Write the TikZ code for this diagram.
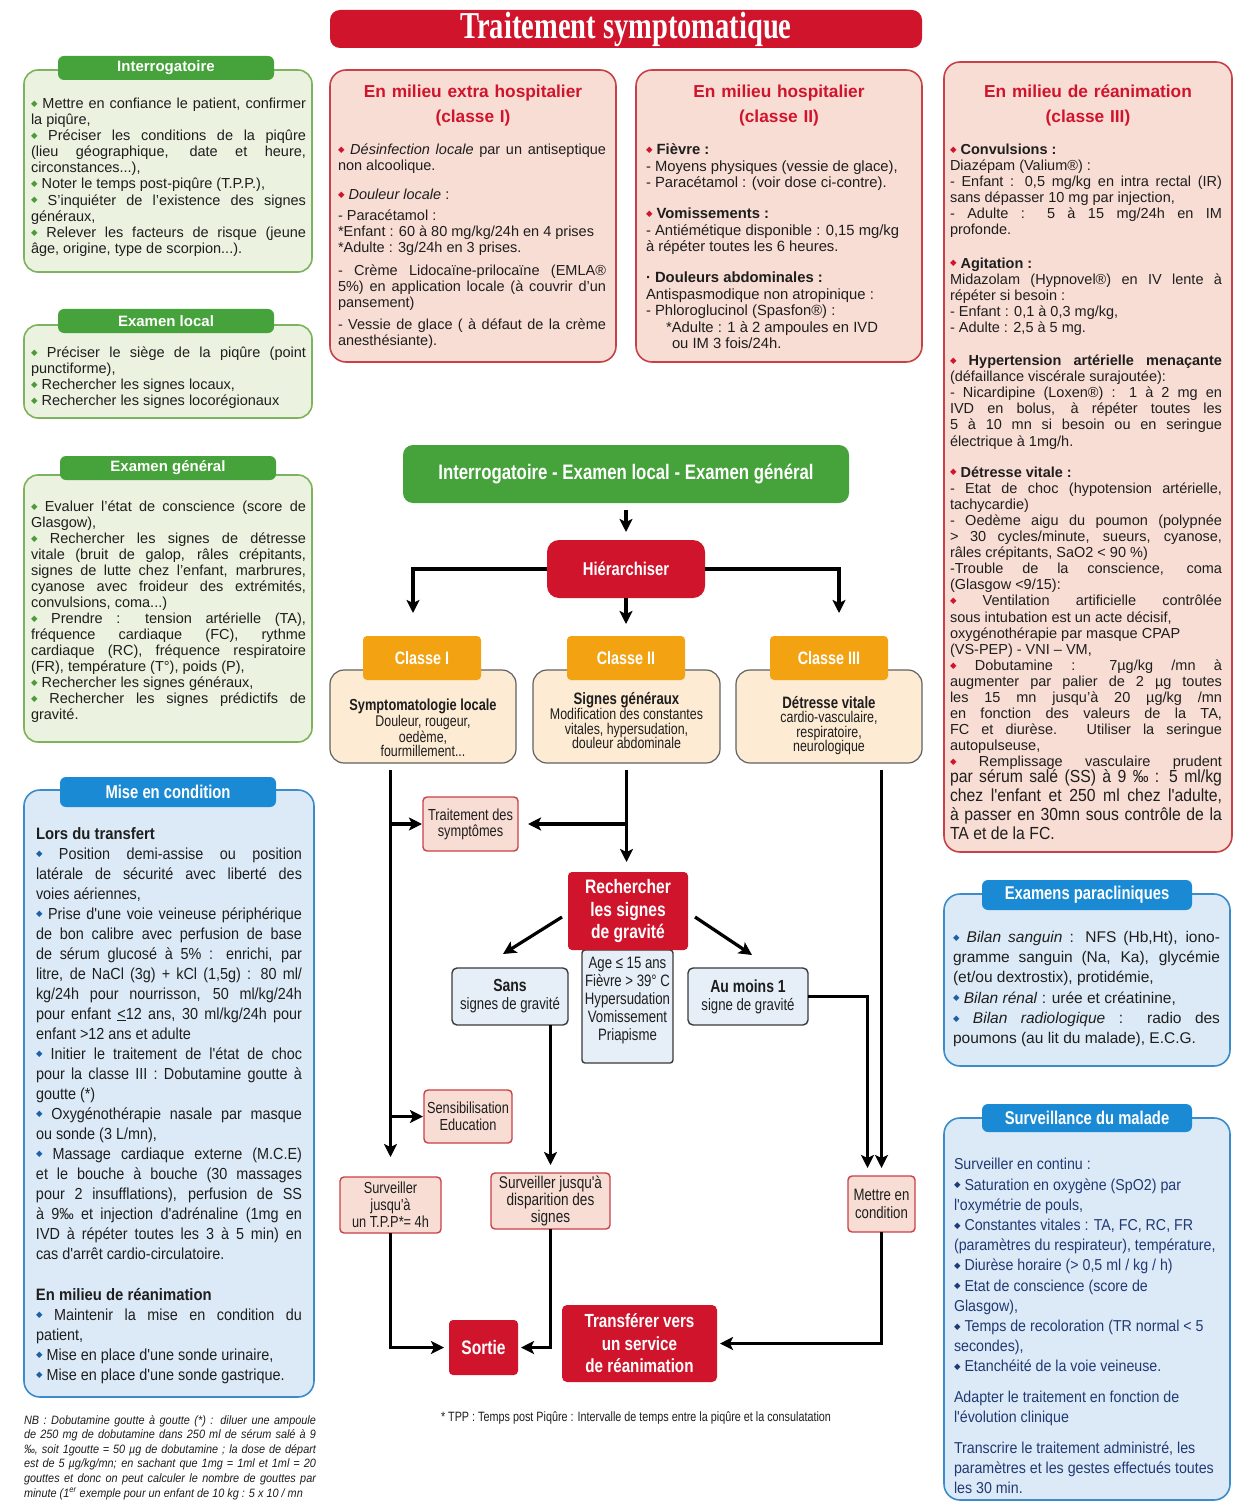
\documentclass[tikz,border=0pt]{standalone}
\usepackage{fontspec}
\setmainfont{Liberation Sans}
\newfontfamily\nfont[FakeStretch=0.8]{Liberation Sans}
\newfontfamily\mcfont[FakeStretch=0.9]{Liberation Sans}
\newfontfamily\ttlfont[FakeStretch=0.75]{Liberation Serif}
\newfontfamily\dvfont{DejaVu Sans}
\usetikzlibrary{arrows.meta,calc}
\definecolor{tred}{HTML}{D0142C}
\definecolor{gtab}{HTML}{46A23A}
\definecolor{gfill}{HTML}{EBF2DF}
\definecolor{gborder}{HTML}{7DB35C}
\definecolor{gbul}{HTML}{4E9A3A}
\definecolor{btab}{HTML}{1A8AD4}
\definecolor{bfill}{HTML}{DCEAF7}
\definecolor{bborder}{HTML}{3A8CCB}
\definecolor{bbul}{HTML}{1F5FA8}
\definecolor{navy}{HTML}{213A73}
\definecolor{pfill}{HTML}{F8DDD4}
\definecolor{pborder}{HTML}{C94148}
\definecolor{otab}{HTML}{F3A312}
\definecolor{peach}{HTML}{FDEBD4}
\definecolor{lblue}{HTML}{E6EFF8}
\definecolor{boxline}{HTML}{3A3A3A}
\definecolor{txt}{HTML}{1E1E1E}
\newcommand\bul[1]{\raisebox{2.2pt}{\textcolor{#1}{\dvfont\fontsize{8.5}{8.5}\selectfont ◆}}\ }
\newcommand\fl{\rule{0pt}{1em}}
\newcommand\fsz[2]{\fontsize{#1}{#2}\selectfont}
\tolerance=9999 \hbadness=10000 \hyphenpenalty=10000 \exhyphenpenalty=10000
\begin{document}
\begin{tikzpicture}[x=1pt,y=-1pt,
  every node/.style={inner sep=0pt, outer sep=0pt},
  titlebox/.style={fill=tred, rounded corners=10pt, text=white, minimum width=592pt, minimum height=38pt, font=\ttlfont\bfseries\fsz{38}{38}},
  gpanel/.style={draw=gborder, fill=gfill, line width=1.6pt, rounded corners=14pt, anchor=north west},
  gtabs/.style={fill=gtab, rounded corners=6pt, text=white, font=\bfseries\fsz{15}{15}, minimum width=216pt, minimum height=24pt},
  ppanel/.style={draw=pborder, fill=pfill, line width=1.6pt, rounded corners=16pt, anchor=north west},
  bpanel/.style={draw=bborder, fill=bfill, line width=1.6pt, rounded corners=16pt, anchor=north west},
  btabs/.style={fill=btab, rounded corners=6pt, text=white, font=\nfont\bfseries\fsz{18.5}{18.5}, minimum width=210pt, minimum height=28pt},
  ptxt/.style={anchor=north west, align=justify, text=txt},
  phead/.style={anchor=north, align=center, text=tred, font=\bfseries\fsz{17.3}{25}, text width=280pt},
  redbox/.style={fill=tred, rounded corners=8pt, text=white, align=center},
  pbox/.style={draw=pborder, fill=pfill, line width=1.4pt, rounded corners=4pt, align=center, text=txt},
  lbbox/.style={draw=boxline, fill=lblue, line width=1.4pt, rounded corners=5pt, align=center, text=txt},
  pchbox/.style={draw=boxline!80, fill=peach, line width=1.2pt, rounded corners=14pt},
  otabs/.style={fill=otab, rounded corners=4pt, text=white, font=\nfont\bfseries\fsz{18}{18}, minimum width=118pt, minimum height=44pt},
  arr/.style={line width=3.2pt, -{Stealth[length=13pt,width=13pt,inset=3pt]}, line join=miter}
]
\useasboundingbox (0,0) rectangle (1236,1503);
\fill[white] (0,0) rectangle (1236,1503);

% ---------- title ----------
\node[titlebox] (title) at (626,29) {Traitement symptomatique};

% ---------- left column ----------
\node[gpanel, minimum width=288pt, minimum height=202pt] (p-interro) at (24,70) {};
\node[gtabs] (tab-interro) at (166,68) {Interrogatoire};
\node[ptxt, text width=275pt, font=\fsz{14.5}{16.1}] (t-interro) at (31,94) {\fl\bul{gbul}Mettre en confiance le patient, confirmer\linebreak la piqûre,\par
\bul{gbul}Préciser les conditions de la piqûre\linebreak (lieu géographique, date et heure,\linebreak circonstances...),\par
\bul{gbul}Noter le temps post-piqûre (T.P.P.),\par
\bul{gbul}S'inquiéter de l'existence des signes\linebreak généraux,\par
\bul{gbul}Relever les facteurs de risque (jeune\linebreak âge, origine, type de scorpion...).};

\node[gpanel, minimum width=288pt, minimum height=93pt] (p-local) at (24,325) {};
\node[gtabs] (tab-local) at (166,321) {Examen local};
\node[ptxt, text width=275pt, font=\fsz{14.5}{16.1}] (t-local) at (31,343) {\fl\bul{gbul}Préciser le siège de la piqûre (point\linebreak punctiforme),\par
\bul{gbul}Rechercher les signes locaux,\par
\bul{gbul}Rechercher les signes locorégionaux};

\node[gpanel, minimum width=288pt, minimum height=267pt] (p-gen) at (24,475) {};
\node[gtabs] (tab-gen) at (168,468) {Examen général};
\node[ptxt, text width=275pt, font=\fsz{14.5}{16}] (t-gen) at (31,497) {\fl\bul{gbul}Evaluer l'état de conscience (score de\linebreak Glasgow),\par
\bul{gbul}Rechercher les signes de détresse\linebreak vitale (bruit de galop, râles crépitants,\linebreak signes de lutte chez l'enfant, marbrures,\linebreak cyanose avec froideur des extrémités,\linebreak convulsions, coma...)\par
\bul{gbul}Prendre : tension artérielle (TA),\linebreak fréquence cardiaque (FC), rythme\linebreak cardiaque (RC), fréquence respiratoire\linebreak (FR), température (T°), poids (P),\par
\bul{gbul}Rechercher les signes généraux,\par
\bul{gbul}Rechercher les signes prédictifs de\linebreak gravité.};

\node[bpanel, minimum width=290pt, minimum height=607pt] (p-mise) at (24,790) {};
\node[btabs, minimum width=216pt, minimum height=30pt] (tab-mise) at (168,792) {Mise en condition};
\node[ptxt, text width=266pt, font=\mcfont\fsz{16}{20}] (t-mise) at (36,823) {\fl{\bfseries\fsz{16.5}{20}Lors du transfert}\par
\bul{bbul}Position demi-assise ou position\linebreak latérale de sécurité avec liberté des\linebreak voies aériennes,\par
\bul{bbul}Prise d'une voie veineuse périphérique\linebreak de bon calibre avec perfusion de base\linebreak de sérum glucosé à 5\% : enrichi, par\linebreak litre, de NaCl (3g) + kCl (1,5g) : 80 ml/\linebreak kg/24h pour nourrisson, 50 ml/kg/24h\linebreak pour enfant \underline{<}12 ans, 30 ml/kg/24h pour\linebreak enfant >12 ans et adulte\par
\bul{bbul}Initier le traitement de l'état de choc\linebreak pour la classe III : Dobutamine goutte à\linebreak goutte (*)\par
\bul{bbul}Oxygénothérapie nasale par masque\linebreak ou sonde (3 L/mn),\par
\bul{bbul}Massage cardiaque externe (M.C.E)\linebreak et le bouche à bouche (30 massages\linebreak pour 2 insufflations), perfusion de SS\linebreak à 9‰ et injection d'adrénaline (1mg en\linebreak IVD à répéter toutes les 3 à 5 min) en\linebreak cas d'arrêt cardio-circulatoire.\par\vspace{21pt}
{\bfseries\fsz{16.5}{20}En milieu de réanimation}\par
\bul{bbul}Maintenir la mise en condition du\linebreak patient,\par
\bul{bbul}Mise en place d'une sonde urinaire,\par
\bul{bbul}Mise en place d'une sonde gastrique.};

\node[ptxt, text width=292pt, font=\mcfont\itshape\fsz{12.1}{14.6}] (t-nb) at (24,1412) {\fl NB : Dobutamine goutte à goutte (*) : diluer une ampoule\linebreak de 250 mg de dobutamine dans 250 ml de sérum salé à 9\linebreak ‰, soit 1goutte = 50 µg de dobutamine ; la dose de départ\linebreak est de 5 µg/kg/mn; en sachant que 1mg = 1ml et 1ml = 20\linebreak gouttes et donc on peut calculer le nombre de gouttes par\linebreak minute (1\textsuperscript{er} exemple pour un enfant de 10 kg : 5 x 10 / mn};

% ---------- top treatment panels ----------
\node[ppanel, minimum width=286pt, minimum height=292pt] (p-c1) at (330,70) {};
\node[phead] (h-c1) at (473,80) {\fl En milieu extra hospitalier\\(classe I)};
\node[ptxt, text width=268pt, font=\fsz{14.5}{16}] (t-c1) at (338,140) {\fl\bul{tred}\textit{Désinfection locale} par un antiseptique\linebreak non alcoolique.\par\vspace{13pt}
\bul{tred}\textit{Douleur locale} :\par\vspace{5pt}
- Paracétamol :\par
*Enfant : 60 à 80 mg/kg/24h en 4 prises\par
*Adulte : 3g/24h en 3 prises.\par\vspace{7pt}
- Crème Lidocaïne-prilocaïne (EMLA®\linebreak 5\%) en application locale (à couvrir d'un\linebreak pansement)\par\vspace{6pt}
- Vessie de glace ( à défaut de la crème\linebreak anesthésiante).};

\node[ppanel, minimum width=286pt, minimum height=292pt] (p-c2) at (636,70) {};
\node[phead] (h-c2) at (779,80) {\fl En milieu hospitalier\\(classe II)};
\node[anchor=north west, align=left, text=txt, font=\fsz{14.8}{16.5}] (t-c2) at (646,140) {\fl\bul{tred}\textbf{Fièvre :}\\
- Moyens physiques (vessie de glace),\\
- Paracétamol : (voir dose ci-contre).\\[14.5pt]
\bul{tred}\textbf{Vomissements :}\\
- Antiémétique disponible : 0,15 mg/kg\\
à répéter toutes les 6 heures.\\[14.5pt]
\textbf{· Douleurs abdominales :}\\
Antispasmodique non atropinique :\\
- Phloroglucinol (Spasfon®) :\\
\hspace*{20pt}*Adulte : 1 à 2 ampoules en IVD\\
\hspace*{26pt}ou IM 3 fois/24h.};

\node[ppanel, minimum width=288pt, minimum height=790pt] (p-c3) at (944,62) {};
\node[phead] (h-c3) at (1088,80) {\fl En milieu de réanimation\\(classe III)};
\node[ptxt, text width=272pt, font=\fsz{14.5}{16.1}] (t-c3) at (950,140) {\fl\bul{tred}\textbf{Convulsions :}\par
Diazépam (Valium®) :\par
- Enfant : 0,5 mg/kg en intra rectal (IR)\linebreak sans dépasser 10 mg par injection,\par
- Adulte : 5 à 15 mg/24h en IM\linebreak profonde.\par\vspace{17pt}
\bul{tred}\textbf{Agitation :}\par
Midazolam (Hypnovel®) en IV lente à\linebreak répéter si besoin :\par
- Enfant : 0,1 à 0,3 mg/kg,\par
- Adulte : 2,5 à 5 mg.\par\vspace{17pt}
\bul{tred}\textbf{Hypertension artérielle menaçante}\linebreak (défaillance viscérale surajoutée):\par
- Nicardipine (Loxen®) : 1 à 2 mg en\linebreak IVD en bolus, à répéter toutes les\linebreak 5 à 10 mn si besoin ou en seringue\linebreak électrique à 1mg/h.\par\vspace{15pt}
\bul{tred}\textbf{Détresse vitale :}\par
- Etat de choc (hypotension artérielle,\linebreak tachycardie)\par
- Oedème aigu du poumon (polypnée\linebreak > 30 cycles/minute, sueurs, cyanose,\linebreak râles crépitants, SaO2 < 90 \%)\par
-Trouble de la conscience, coma\linebreak (Glasgow <9/15):\par
\bul{tred}Ventilation artificielle contrôlée\linebreak sous intubation est un acte décisif,\newline oxygénothérapie par masque CPAP\newline (VS-PEP) - VNI – VM,\par
\bul{tred}Dobutamine : 7µg/kg /mn à\linebreak augmenter par palier de 2 µg toutes\linebreak les 15 mn jusqu'à 20 µg/kg /mn\linebreak en fonction des valeurs de la TA,\linebreak FC et diurèse. Utiliser la seringue\linebreak autopulseuse,\par
{\parfillskip=0pt \bul{tred}Remplissage vasculaire prudent\par}
\vspace{-3pt}{\mcfont\fsz{17.5}{19}par sérum salé (SS) à 9 ‰ : 5 ml/kg\linebreak chez l'enfant et 250 ml chez l'adulte,\linebreak à passer en 30mn sous contrôle de la\linebreak TA et de la FC.\par}};

% ---------- right lower panels ----------
\node[bpanel, minimum width=286pt, minimum height=172pt] (p-exam) at (944,894) {};
\node[btabs, minimum height=30pt] (tab-exam) at (1087,895) {Examens paracliniques};
\node[ptxt, text width=267pt, font=\fsz{15.5}{20.2}] (t-exam) at (953,927) {\fl\bul{bbul}\textit{Bilan sanguin} : NFS (Hb,Ht), iono-\linebreak gramme sanguin (Na, Ka), glycémie\linebreak (et/ou dextrostix), protidémie,\par
\bul{bbul}\textit{Bilan rénal} : urée et créatinine,\par
\bul{bbul}\textit{Bilan radiologique} : radio des\linebreak poumons (au lit du malade), E.C.G.};

\node[bpanel, minimum width=286pt, minimum height=382pt] (p-surv) at (944,1118) {};
\node[btabs] (tab-surv) at (1087,1118) {Surveillance du malade};
\node[anchor=north west, align=left, text=navy, font=\mcfont\fsz{15.8}{20.2}] (t-surv) at (954,1154) {\fl Surveiller en continu :\\
\bul{navy}Saturation en oxygène (SpO2) par\\
l'oxymétrie de pouls,\\
\bul{navy}Constantes vitales : TA, FC, RC, FR\\
(paramètres du respirateur), température,\\
\bul{navy}Diurèse horaire (> 0,5 ml / kg / h)\\
\bul{navy}Etat de conscience (score de\\
Glasgow),\\
\bul{navy}Temps de recoloration (TR normal < 5\\
secondes),\\
\bul{navy}Etanchéité de la voie veineuse.\\[10pt]
Adapter le traitement en fonction de\\
l'évolution clinique\\[11pt]
Transcrire le traitement administré, les\\
paramètres et les gestes effectués toutes\\
les 30 min.};

% ---------- flowchart ----------
\node[fill=gtab, rounded corners=10pt, minimum width=446pt, minimum height=58pt, text=white, font=\nfont\bfseries\fsz{21}{21}] (green) at (626,474) {Interrogatoire - Examen local - Examen général};
\node[redbox, minimum width=158pt, minimum height=58pt, rounded corners=12pt, font=\nfont\bfseries\fsz{18.5}{18.5}] (hier) at (626,569) {Hiérarchiser};

\node[pchbox, minimum width=186pt, minimum height=93pt] (c1box) at (423,716.5) {};
\node[pchbox, minimum width=187pt, minimum height=93pt] (c2box) at (626.5,716.5) {};
\node[pchbox, minimum width=186pt, minimum height=93pt] (c3box) at (829,716.5) {};
\node[otabs] (c1tab) at (422,658) {Classe I};
\node[otabs] (c2tab) at (626,658) {Classe II};
\node[otabs] (c3tab) at (829,658) {Classe III};
\node[align=center, text=txt, font=\nfont\fsz{15.5}{14.5}] (c1txt) at (423,728) {{\bfseries\fsz{16}{14.5}Symptomatologie locale}\\Douleur, rougeur,\\oedème,\\fourmillement...};
\node[align=center, text=txt, font=\nfont\fsz{15.5}{14.5}] (c2txt) at (626.5,720.5) {{\bfseries\fsz{16.5}{14.5}Signes généraux}\\Modification des constantes\\vitales, hypersudation,\\douleur abdominale};
\node[align=center, text=txt, font=\nfont\fsz{15.5}{14.5}] (c3txt) at (829,725.5) {{\bfseries\fsz{16.5}{14.5}Détresse vitale}\\cardio-vasculaire,\\respiratoire,\\neurologique};

\node[pbox, minimum width=95pt, minimum height=54pt, font=\nfont\fsz{16}{16}] (trt) at (470.5,824) {Traitement des\\symptômes};
\node[lbbox, minimum width=91pt, minimum height=113pt, rounded corners=3pt] (age) at (627.5,1006.5) {};
\node[align=center, text=txt, font=\nfont\fsz{16.5}{18}] (agetxt) at (627.5,1001) {Age ≤ 15 ans\\Fièvre > 39° C\\Hypersudation\\Vomissement\\Priapisme};
\node[redbox, minimum width=120pt, minimum height=78pt, rounded corners=4pt, font=\nfont\bfseries\fsz{19.5}{22.5}] (rech) at (628,911) {Rechercher\\les signes\\de gravité};
\node[lbbox, minimum width=116pt, minimum height=57pt, font=\nfont\fsz{16.5}{18}] (sans) at (510,996.5) {{\bfseries\fsz{17.5}{18}Sans}\\signes de gravité};
\node[lbbox, minimum width=120pt, minimum height=57pt, font=\nfont\fsz{16.5}{18}] (aum) at (748,996.5) {{\bfseries\fsz{17.5}{18}Au moins 1}\\signe de gravité};
\node[pbox, minimum width=88pt, minimum height=53pt, font=\nfont\fsz{16}{17}] (sens) at (468,1116.5) {Sensibilisation\\Education};
\node[pbox, minimum width=101pt, minimum height=56pt, font=\nfont\fsz{16}{17}] (tpp) at (390.5,1205) {Surveiller\\jusqu'à\\un T.P.P*= 4h};
\node[pbox, minimum width=119pt, minimum height=56pt, font=\nfont\fsz{17}{17}] (sd) at (550.5,1201) {Surveiller jusqu'à\\disparition des\\signes};
\node[pbox, minimum width=67pt, minimum height=56pt, font=\nfont\fsz{16.5}{18}] (met) at (881.5,1204) {Mettre en\\condition};
\node[redbox, minimum width=69pt, minimum height=55pt, rounded corners=4pt, font=\nfont\bfseries\fsz{19.5}{19.5}] (sortie) at (483.5,1347.5) {Sortie};
\node[redbox, minimum width=155pt, minimum height=77pt, rounded corners=5pt, font=\nfont\bfseries\fsz{19}{22.5}] (transf) at (639.5,1343.5) {Transférer vers\\un service\\de réanimation};
\node[text=txt, font=\nfont\fsz{13.5}{13.5}] (foot) at (636,1418) {* TPP : Temps post Piqûre : Intervalle de temps entre la piqûre et la consulatation};

\coordinate (a1) at (413,613);
\coordinate (a3) at (839,613);

% ---------- connectors ----------
\draw[arr, shorten <=7pt, shorten >=8pt] (green) -- (hier);
\draw[arr] (hier.west) -| (a1);
\draw[arr] (hier.east) -| (a3);
\draw[arr, shorten >=12pt] (hier.south) -- (c2tab.north);
\draw[arr, shorten <=7pt, shorten >=20pt] (c1box.south -| tpp.north) -- (tpp.north);
\draw[arr, shorten >=1pt] (trt.west -| tpp.north) -- (trt.west);
\draw[arr, shorten >=1pt] (sens.west -| tpp.north) -- (sens.west);
\draw[arr, shorten <=7pt, shorten >=10pt] (c2box.south) -- (c2box.south |- rech.north);
\draw[arr, shorten >=10pt] (trt.east -| c2box.south) -- (trt.east);
\draw[arr, shorten <=7pt, shorten >=8pt] (c3box.south -| met.north) -- (met.north);
\draw[arr, shorten >=8pt] (aum.east) -| ($(met.north)+(-14,0)$);
\draw[arr] ($(rech.west)+(-6,6)$) -- ($(sans.north)+(-7,-14)$);
\draw[arr] ($(rech.east)+(7,6)$) -- ($(aum.north)+(4,-13)$);
\draw[arr, shorten >=8pt] (sans.south -| sd.north) -- (sd.north);
\draw[arr, shorten >=5pt] (tpp.south) |- (sortie.west);
\draw[arr, shorten >=3pt] (sd.south) |- (sortie.east);
\draw[arr, shorten >=3pt] (met.south) |- (transf.east);
\end{tikzpicture}
\end{document}
